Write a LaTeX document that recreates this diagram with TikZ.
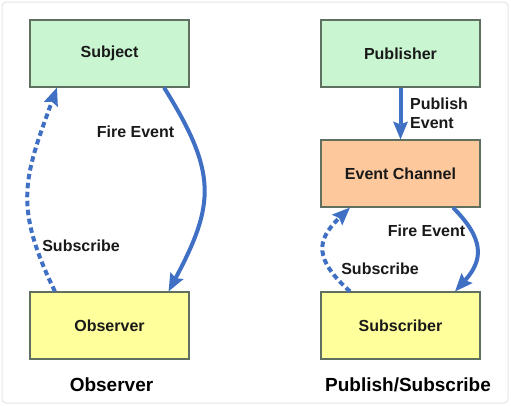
\documentclass[tikz,border=0pt]{standalone}
\usepackage{fontspec}
\setmainfont{Liberation Sans}
\usetikzlibrary{arrows.meta}
\definecolor{boxgreen}{HTML}{C9F5D1}
\definecolor{boxorange}{HTML}{FCC89C}
\definecolor{boxyellow}{HTML}{FFFF9C}
\definecolor{boxline}{HTML}{5F6F60}
\definecolor{arrowblue}{HTML}{4070C4}
\tikzset{
  box/.style={draw=boxline, line width=1.2pt, minimum width=159pt, minimum height=67pt,
    inner sep=0pt, text=black!90, font=\bfseries\fontsize{16}{19}\selectfont},
  lbl/.style={inner sep=0pt, text=black!90, font=\bfseries\fontsize{16}{19}\selectfont},
  title/.style={inner sep=0pt, font=\bfseries\fontsize{19}{22}\selectfont},
  flow/.style={draw=arrowblue, line width=4pt,
    -{Stealth[length=18pt,width=15pt,inset=3pt,line width=0pt]}},
  subs/.style={flow, dash pattern=on 5.5pt off 3.5pt},
}
\begin{document}
\begin{tikzpicture}[x=1pt,y=1pt]
  \useasboundingbox (0,0) rectangle (511,-405);
  \draw[gray!20, line width=1pt, rounded corners=4pt] (2,-2) rectangle (508,-403);
  % observer
  \node[box, fill=boxgreen] (Subj) at (109.5,-53.5) {Subject};
  \node[box, fill=boxyellow] (Obs) at (109.5,-325.5) {Observer};
  \draw[flow] (Subj.-32.5) to[out=-58, in=62, looseness=1.25] (Obs.30);
  \draw[subs] (Obs.148.6) to[out=116, in=-110, looseness=1.2] (Subj.-147);
  \node[lbl] (FireA) at (135.5,-132) {Fire Event};
  \node[lbl] (SubA) at (81,-246) {Subscribe};
  \node[title] (TitleA) at (111.5,-385) {Observer};
  % publish/subscribe
  \node[box, fill=boxgreen] (Pub) at (400.5,-53.5) {Publisher};
  \node[box, fill=boxorange] (Chan) at (400.5,-173.5) {Event Channel};
  \node[box, fill=boxyellow] (Subs) at (400.5,-325.5) {Subscriber};
  \draw[flow] (Pub) -- (Chan);
  \draw[flow] (Chan.-33) to[out=-45, in=48, looseness=1.32] (Subs.32);
  \draw[subs] (Subs.146) to[out=138, in=-136, looseness=1.46] (Chan.-146);
  \node[lbl, align=left, anchor=west] (PubEv) at (410,-113) {Publish\\Event};
  \node[lbl] (FireB) at (426.5,-231) {Fire Event};
  \node[lbl] (SubB) at (380,-269) {Subscribe};
  \node[title] (TitleB) at (408,-385) {Publish/Subscribe};
\end{tikzpicture}
\end{document}
